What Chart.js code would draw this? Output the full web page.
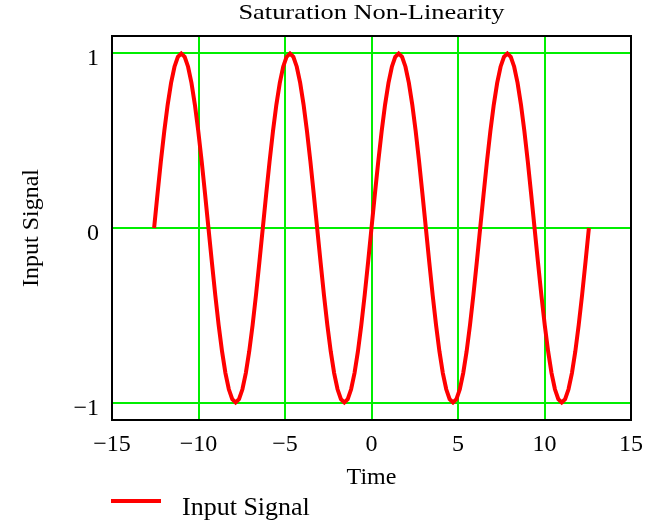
<!DOCTYPE html>
<html>
<head>
<meta charset="utf-8">
<script src="https://cdn.jsdelivr.net/npm/chart.js@4"></script>
<style>
  html, body { margin: 0; padding: 0; background: #fff; }
  #wrap { width: 654px; height: 524px; }
</style>
</head>
<body>
<div id="wrap"><canvas id="satChart" width="654" height="524"></canvas></div>
<script>
const time = [
  -12.566, -12.370, -12.174, -11.977, -11.781, -11.585, -11.388, -11.192,
  -10.996, -10.799, -10.603, -10.407, -10.210, -10.014, -9.817, -9.621,
  -9.425, -9.228, -9.032, -8.836, -8.639, -8.443, -8.247, -8.050,
  -7.854, -7.658, -7.461, -7.265, -7.069, -6.872, -6.676, -6.480,
  -6.283, -6.087, -5.890, -5.694, -5.498, -5.301, -5.105, -4.909,
  -4.712, -4.516, -4.320, -4.123, -3.927, -3.731, -3.534, -3.338,
  -3.142, -2.945, -2.749, -2.553, -2.356, -2.160, -1.963, -1.767,
  -1.571, -1.374, -1.178, -0.982, -0.785, -0.589, -0.393, -0.196,
  0.000, 0.196, 0.393, 0.589, 0.785, 0.982, 1.178, 1.374,
  1.571, 1.767, 1.963, 2.160, 2.356, 2.553, 2.749, 2.945,
  3.142, 3.338, 3.534, 3.731, 3.927, 4.123, 4.320, 4.516,
  4.712, 4.909, 5.105, 5.301, 5.498, 5.694, 5.890, 6.087,
  6.283, 6.480, 6.676, 6.872, 7.069, 7.265, 7.461, 7.658,
  7.854, 8.050, 8.247, 8.443, 8.639, 8.836, 9.032, 9.228,
  9.425, 9.621, 9.817, 10.014, 10.210, 10.407, 10.603, 10.799,
  10.996, 11.192, 11.388, 11.585, 11.781, 11.977, 12.174, 12.370,
  12.566
];
const inputSignal = [
  0, 0.195, 0.383, 0.556, 0.707, 0.831, 0.924, 0.981,
  1, 0.981, 0.924, 0.831, 0.707, 0.556, 0.383, 0.195,
  0, -0.195, -0.383, -0.556, -0.707, -0.831, -0.924, -0.981,
  -1, -0.981, -0.924, -0.831, -0.707, -0.556, -0.383, -0.195,
  0, 0.195, 0.383, 0.556, 0.707, 0.831, 0.924, 0.981,
  1, 0.981, 0.924, 0.831, 0.707, 0.556, 0.383, 0.195,
  0, -0.195, -0.383, -0.556, -0.707, -0.831, -0.924, -0.981,
  -1, -0.981, -0.924, -0.831, -0.707, -0.556, -0.383, -0.195,
  0, 0.195, 0.383, 0.556, 0.707, 0.831, 0.924, 0.981,
  1, 0.981, 0.924, 0.831, 0.707, 0.556, 0.383, 0.195,
  0, -0.195, -0.383, -0.556, -0.707, -0.831, -0.924, -0.981,
  -1, -0.981, -0.924, -0.831, -0.707, -0.556, -0.383, -0.195,
  0, 0.195, 0.383, 0.556, 0.707, 0.831, 0.924, 0.981,
  1, 0.981, 0.924, 0.831, 0.707, 0.556, 0.383, 0.195,
  0, -0.195, -0.383, -0.556, -0.707, -0.831, -0.924, -0.981,
  -1, -0.981, -0.924, -0.831, -0.707, -0.556, -0.383, -0.195,
  0
];
const xTicks = [-15, -10, -5, 0, 5, 10, 15];
const yTicks = [-1, 0, 1];

const FONT = '"Liberation Serif", "Times New Roman", serif';
const GRID_GREEN = '#00ee00';

function fmt(v) {
  return v < 0 ? '\u2212' + Math.abs(v) : String(v);
}

// tick labels, titles, frame and legend (drawn here to get the sizes right)
const decorations = {
  id: 'decorations',
  afterDraw(chart) {
    const ctx = chart.ctx;
    const a = chart.chartArea;
    const xs = chart.scales.x, ys = chart.scales.y;
    ctx.save();
    ctx.strokeStyle = '#000';
    ctx.lineWidth = 2;
    ctx.strokeRect(a.left, a.top, a.right - a.left, a.bottom - a.top);

    ctx.fillStyle = '#000';
    ctx.textBaseline = 'alphabetic';
    ctx.font = '24px ' + FONT;
    ctx.textAlign = 'center';
    xTicks.forEach(v => ctx.fillText(fmt(v), xs.getPixelForValue(v), 451));
    ctx.textAlign = 'right';
    yTicks.forEach(v => ctx.fillText(fmt(v), 99, ys.getPixelForValue(v) + 12));

    ctx.textAlign = 'center';
    ctx.fillText('Time', (a.left + a.right) / 2, 484);

    ctx.save();
    ctx.translate(38, (a.top + a.bottom) / 2);
    ctx.rotate(-Math.PI / 2);
    ctx.fillText('Input Signal', 0, 0);
    ctx.restore();

    ctx.save();
    ctx.font = '22px ' + FONT;
    ctx.translate((a.left + a.right) / 2, 19);
    ctx.scale(1.2, 1);
    ctx.fillText('Saturation Non-Linearity', 0, 0);
    ctx.restore();

    const ds = chart.data.datasets[0];
    ctx.strokeStyle = ds.borderColor;
    ctx.lineWidth = 4;
    ctx.beginPath();
    ctx.moveTo(111, 501);
    ctx.lineTo(161, 501);
    ctx.stroke();
    ctx.font = '26px ' + FONT;
    ctx.textAlign = 'left';
    ctx.fillText(ds.label, 182, 515);
    ctx.restore();
  }
};

new Chart(document.getElementById('satChart'), {
  type: 'line',
  data: {
    datasets: [{
      label: 'Input Signal',
      data: time.map((t, i) => ({ x: t, y: inputSignal[i] })),
      borderColor: '#ff0000',
      borderWidth: 4,
      pointRadius: 0,
      tension: 0,
      fill: false
    }]
  },
  options: {
    responsive: false,
    animation: false,
    layout: { padding: { left: 0, right: 23, top: 36, bottom: 0 } },
    plugins: {
      legend: { display: false },
      title: { display: false },
      tooltip: { enabled: false }
    },
    scales: {
      x: {
        type: 'linear',
        min: -15,
        max: 15,
        afterFit: s => { s.height = 104; },
        afterBuildTicks: s => { s.ticks = xTicks.map(v => ({ value: v })); },
        grid: { color: GRID_GREEN, lineWidth: 2, drawTicks: false },
        border: { display: false },
        ticks: { display: false }
      },
      y: {
        type: 'linear',
        min: -1.1,
        max: 1.1,
        afterFit: s => { s.width = 112; },
        afterBuildTicks: s => { s.ticks = yTicks.map(v => ({ value: v })); },
        grid: { color: GRID_GREEN, lineWidth: 2, drawTicks: false },
        border: { display: false },
        ticks: { display: false }
      }
    }
  },
  plugins: [decorations]
});
</script>
</body>
</html>
